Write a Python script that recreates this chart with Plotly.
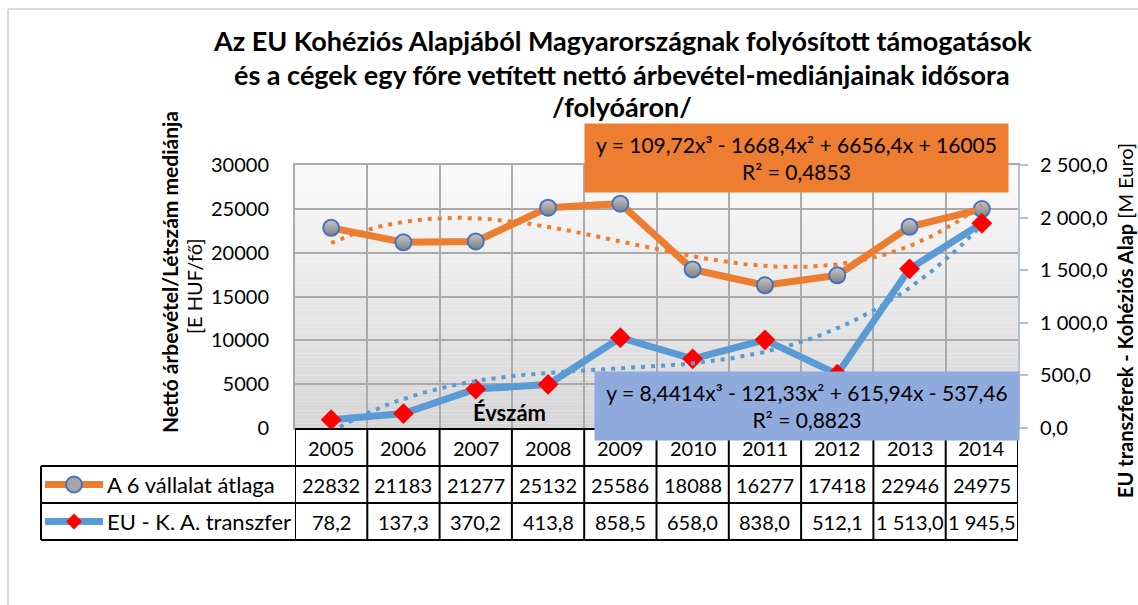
import numpy as np
import plotly.graph_objects as go

# ---- data ----
years = [2005, 2006, 2007, 2008, 2009, 2010, 2011, 2012, 2013, 2014]
atlag = [22832, 21183, 21277, 25132, 25586, 18088, 16277, 17418, 22946, 24975]
transzfer = [78.2, 137.3, 370.2, 413.8, 858.5, 658.0, 838.0, 512.1, 1513.0, 1945.5]

# cubic trend coefficients (highest power first) and R² values
atlag_trend = [109.72, -1668.4, 6656.4, 16005]
atlag_r2 = 0.4853
transzfer_trend = [8.4414, -121.33, 615.94, -537.46]
transzfer_r2 = 0.8823

left_ticks = [0, 5000, 10000, 15000, 20000, 25000, 30000]
right_ticks = [0, 500, 1000, 1500, 2000, 2500]

series_names = ["A 6 vállalat átlaga", "EU - K. A. transzfer"]

ORANGE = "#ED7D31"
BLUE = "#5B9BD5"
FONT = "Lato"

W, H = 1138, 605
L, R, T, B = 295, 1018, 165, 428   # plot area in pixels


def px(xp):
    return (xp - L) / (R - L)


def py(yp):
    return (B - yp) / (B - T)


def hu_num(v, dec=1):
    s = f"{v:,.{dec}f}"
    return s.replace(",", " ").replace(".", ",")


def eq_text(coefs):
    powers = ["x³", "x²", "x", ""]
    out = "y = "
    for i, (c, p) in enumerate(zip(coefs, powers)):
        num = f"{abs(c):g}".replace(".", ",")
        if i == 0:
            out += ("-" if c < 0 else "") + num + p
        else:
            out += (" - " if c < 0 else " + ") + num + p
    return out


fig = go.Figure()

# main series
fig.add_trace(go.Scatter(
    x=years, y=atlag, name=series_names[0], mode="lines+markers",
    line=dict(color=ORANGE, width=7),
    marker=dict(symbol="circle", size=16, color="#C8C8C8",
                gradient=dict(type="vertical", color="#7F7F7F"),
                line=dict(color="#4472C4", width=2)),
    yaxis="y", showlegend=False))

fig.add_trace(go.Scatter(
    x=years, y=transzfer, name=series_names[1], mode="lines+markers",
    line=dict(color=BLUE, width=7),
    marker=dict(symbol="diamond", size=16, color="#FF0000"),
    yaxis="y2", showlegend=False))

# polynomial trend lines
t = np.linspace(1, 10, 300)
trend_x = years[0] - 1 + t
fig.add_trace(go.Scatter(
    x=trend_x, y=np.polyval(atlag_trend, t), mode="lines",
    line=dict(color=ORANGE, width=4, dash="4px,6px"),
    yaxis="y", showlegend=False, hoverinfo="skip"))
fig.add_trace(go.Scatter(
    x=trend_x, y=np.polyval(transzfer_trend, t), mode="lines",
    line=dict(color=BLUE, width=4, dash="4px,6px"),
    yaxis="y2", showlegend=False, hoverinfo="skip"))

shapes = []

# plot-area gradient background
n_bands = 60
for i in range(n_bands):
    f = i / (n_bands - 1)
    g = int(round(250 - (250 - 214) * f))
    shapes.append(dict(
        type="rect", xref="paper", yref="paper", layer="below",
        x0=0, x1=1, y0=1 - (i + 1) / n_bands, y1=1 - i / n_bands,
        fillcolor=f"rgb({g},{g},{g})", line=dict(width=0)))

# chart-area frame
shapes.append(dict(type="line", xref="paper", yref="paper",
                   x0=px(8), x1=px(8), y0=py(9), y1=py(605),
                   line=dict(color="#D6DCE5", width=2)))
shapes.append(dict(type="line", xref="paper", yref="paper",
                   x0=px(8), x1=px(1138), y0=py(9), y1=py(9),
                   line=dict(color="#D6DCE5", width=2)))

# data table grid
row_y = [429, 466, 503, 540]
tbl_line = dict(color="black", width=2)
shapes.append(dict(type="line", xref="paper", yref="paper",
                   x0=0, x1=1, y0=py(row_y[0]), y1=py(row_y[0]), line=tbl_line))
for yy in row_y[1:]:
    shapes.append(dict(type="line", xref="paper", yref="paper",
                       x0=px(41), x1=1, y0=py(yy), y1=py(yy), line=tbl_line))
for k in range(len(years) + 1):
    xb = years[0] - 0.5 + k
    shapes.append(dict(type="line", xref="x", yref="paper",
                       x0=xb, x1=xb, y0=py(row_y[0]), y1=py(row_y[3]), line=tbl_line))
shapes.append(dict(type="line", xref="paper", yref="paper",
                   x0=px(41), x1=px(41), y0=py(row_y[1]), y1=py(row_y[3]), line=tbl_line))

# legend keys inside the table
row_mid = [(row_y[i] + row_y[i + 1]) / 2 for i in range(3)]
key_x0, key_x1, key_c = 45, 103, 74
shapes.append(dict(type="line", xref="paper", yref="paper",
                   x0=px(key_x0), x1=px(key_x1), y0=py(row_mid[1]), y1=py(row_mid[1]),
                   line=dict(color=ORANGE, width=7)))
shapes.append(dict(type="circle", xref="paper", yref="paper",
                   x0=px(key_c - 8), x1=px(key_c + 8),
                   y0=py(row_mid[1] + 8), y1=py(row_mid[1] - 8),
                   fillcolor="#A6A6A6", line=dict(color="#4472C4", width=2)))
shapes.append(dict(type="line", xref="paper", yref="paper",
                   x0=px(key_x0), x1=px(key_x1), y0=py(row_mid[2]), y1=py(row_mid[2]),
                   line=dict(color=BLUE, width=7)))
d = 8
cx, cy = px(key_c), py(row_mid[2])
dx, dy = d / (R - L), d / (B - T)
shapes.append(dict(type="path", xref="paper", yref="paper",
                   path=f"M {cx - dx} {cy} L {cx} {cy + dy} L {cx + dx} {cy} L {cx} {cy - dy} Z",
                   fillcolor="#FF0000", line=dict(width=0)))

annotations = []

# title
title_lines = ["Az EU Kohéziós Alapjából Magyarországnak folyósított támogatások",
               "és a cégek egy főre vetített nettó árbevétel-mediánjainak idősora",
               "/folyóáron/"]
for line, yy in zip(title_lines, [40, 74, 107]):
    annotations.append(dict(text=f"<b>{line}</b>", xref="paper", yref="paper",
                            x=px(622), y=py(yy), xanchor="center", yanchor="middle",
                            showarrow=False, font=dict(family=FONT, size=27, color="black")))

# axis titles
annotations.append(dict(text="<b>Nettó árbevétel/Létszám mediánja</b>", xref="paper", yref="paper",
                        x=px(169), y=py(272), textangle=-90, xanchor="center", yanchor="middle",
                        showarrow=False, font=dict(family=FONT, size=21, color="black")))
annotations.append(dict(text="[E HUF/fő]", xref="paper", yref="paper",
                        x=px(194), y=py(286), textangle=-90, xanchor="center", yanchor="middle",
                        showarrow=False, font=dict(family=FONT, size=20, color="black")))
annotations.append(dict(text="<b>EU transzferek - Kohéziós Alap</b> [M Euro]", xref="paper", yref="paper",
                        x=px(1125), y=py(321), textangle=-90, xanchor="center", yanchor="middle",
                        showarrow=False, font=dict(family=FONT, size=20, color="black")))
annotations.append(dict(text="<b>Évszám</b>", xref="paper", yref="paper",
                        x=px(509), y=py(412), xanchor="center", yanchor="middle",
                        showarrow=False, font=dict(family=FONT, size=22, color="black")))

# data table cells
cell_font = dict(family=FONT, size=20, color="black")
for i, yr in enumerate(years):
    annotations.append(dict(text=str(yr), xref="x", yref="paper", x=yr, y=py(row_mid[0]),
                            xanchor="center", yanchor="middle", showarrow=False, font=cell_font))
    annotations.append(dict(text=str(atlag[i]), xref="x", yref="paper", x=yr, y=py(row_mid[1]),
                            xanchor="center", yanchor="middle", showarrow=False, font=cell_font))
    annotations.append(dict(text=hu_num(transzfer[i]), xref="x", yref="paper", x=yr, y=py(row_mid[2]),
                            xanchor="center", yanchor="middle", showarrow=False, font=cell_font))
for name, yy in zip(series_names, row_mid[1:]):
    annotations.append(dict(text=name, xref="paper", yref="paper", x=px(105), y=py(yy),
                            xanchor="left", yanchor="middle", showarrow=False,
                            font=dict(family=FONT, size=22, color="black")))

# trend equation boxes
annotations.append(dict(
    text=eq_text(atlag_trend) + "<br>R² = " + f"{atlag_r2:.4f}".replace(".", ","),
    xref="paper", yref="paper", x=px(796), y=py(158), xanchor="center", yanchor="middle",
    width=415, height=60, bgcolor=ORANGE, borderpad=4, showarrow=False,
    font=dict(family=FONT, size=21, color="black")))
annotations.append(dict(
    text=eq_text(transzfer_trend) + "<br>R² = " + f"{transzfer_r2:.4f}".replace(".", ","),
    xref="paper", yref="paper", x=px(807), y=py(406), xanchor="center", yanchor="middle",
    width=416, height=60, bgcolor="#8FAADC", borderpad=4, showarrow=False,
    font=dict(family=FONT, size=21, color="black")))

fig.update_layout(
    width=W, height=H, autosize=False,
    margin=dict(l=L, r=W - R, t=T, b=H - B, pad=0),
    paper_bgcolor="white", plot_bgcolor="rgba(0,0,0,0)",
    separators=", ",
    font=dict(family=FONT, size=20, color="black"),
    xaxis=dict(range=[years[0] - 0.5, years[-1] + 0.5],
               tickvals=[y - 0.5 for y in years] + [years[-1] + 0.5],
               showticklabels=False, ticks="", showgrid=True,
               gridcolor="#ABABAB", gridwidth=2, zeroline=False,
               showline=True, mirror=True, linecolor="#ABABAB", linewidth=2),
    yaxis=dict(range=[0, 30000], tickvals=left_ticks, tickformat="d",
               showgrid=True, gridcolor="#ABABAB", gridwidth=2, zeroline=False,
               ticks="", ticklabelstandoff=20,
               tickfont=dict(family=FONT, size=20, color="black"),
               showline=True, linecolor="#ABABAB", linewidth=2),
    yaxis2=dict(range=[0, 2500], tickvals=right_ticks, tickformat=",.1f",
                overlaying="y", side="right", showgrid=False, zeroline=False,
                ticks="outside", ticklen=8, tickwidth=2, tickcolor="#B4C0D4",
                ticklabelstandoff=8,
                tickfont=dict(family=FONT, size=20, color="black"),
                showline=True, linecolor="#B4C0D4", linewidth=2),
    shapes=shapes, annotations=annotations,
)

fig.write_html("out.html")
